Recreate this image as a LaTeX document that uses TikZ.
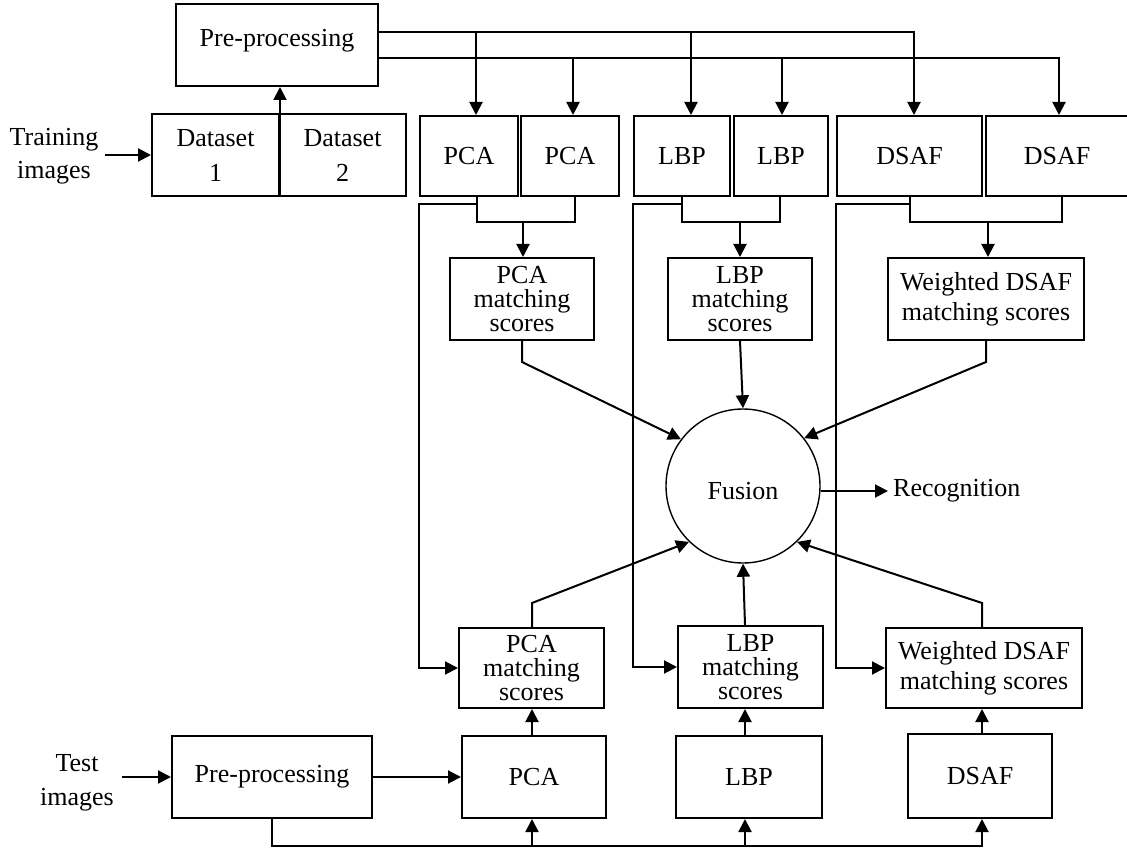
\documentclass[tikz,border=0pt]{standalone}
\usepackage{fontspec}
\setmainfont{Liberation Serif}
\usetikzlibrary{arrows.meta,calc}
\begin{document}
\begin{tikzpicture}[x=1pt,y=-1pt,
  every node/.style={font=\fontsize{26}{24}\selectfont},
  box/.style={draw,line width=2pt,inner sep=0pt,align=center},
  ln/.style={line width=2pt},
  arr/.style={ln,-{Triangle[length=13pt,width=13pt]}},
  txt/.style={inner sep=0pt,align=center}]
\useasboundingbox (0,0) rectangle (1127,850);

% ---------- training branch ----------
\node[box,minimum width=202pt,minimum height=82pt,text height=17pt,text depth=14pt] (pre1) at (277,45) {Pre-processing};
\node[box,minimum width=127pt,minimum height=82pt] (ds1) at (215.5,155) {Dataset\\[11pt]1};
\node[box,minimum width=127pt,minimum height=82pt] (ds2) at (342.5,155) {Dataset\\[11pt]2};
\node[txt,inner xsep=6pt] (train) at (54,156.5) {Training\\[9pt]images};

\node[box,minimum width=98pt,minimum height=80pt] (pca1) at (469,156) {PCA};
\node[box,minimum width=98pt,minimum height=80pt] (pca2) at (570,156) {PCA};
\node[box,minimum width=96pt,minimum height=80pt] (lbp1) at (682,156) {LBP};
\node[box,minimum width=94pt,minimum height=80pt] (lbp2) at (781,156) {LBP};
\node[box,minimum width=145pt,minimum height=80pt] (dsaf1) at (909.5,156) {DSAF};
\node[box,minimum width=142pt,minimum height=80pt] (dsaf2) at (1057,156) {DSAF};

\node[box,minimum width=144pt,minimum height=82pt] (pcams) at (522,299) {PCA\\matching\\scores};
\node[box,minimum width=144pt,minimum height=82pt] (lbpms) at (740,299) {LBP\\matching\\scores};
\node[box,minimum width=196pt,minimum height=82pt] (dsafms) at (986,299) {Weighted DSAF\\[6pt]matching scores};

% ---------- fusion ----------
\node[draw,circle,line width=1.4pt,minimum size=154pt,inner sep=0pt,text height=26pt,text depth=0pt] (fusion) at (743,486) {Fusion};
\node[txt,anchor=west,inner xsep=5pt] (recog) at (888,491) {Recognition};

% ---------- test branch ----------
\node[box,minimum width=145pt,minimum height=80pt] (pcamb) at (531.5,668) {PCA\\matching\\scores};
\node[box,minimum width=145pt,minimum height=82pt] (lbpmb) at (750.5,667) {LBP\\matching\\scores};
\node[box,minimum width=196pt,minimum height=80pt] (dsafmb) at (984,668) {Weighted DSAF\\[6pt]matching scores};

\node[box,minimum width=200pt,minimum height=82pt] (pre2) at (272,777) {Pre-processing};
\node[box,minimum width=144pt,minimum height=82pt] (pcab) at (534,777) {PCA};
\node[box,minimum width=146pt,minimum height=82pt] (lbpb) at (749,777) {LBP};
\node[box,minimum width=144pt,minimum height=84pt] (dsafb) at (980,776) {DSAF};
\node[txt,inner xsep=8pt] (test) at (77,783) {Test\\[10pt]images};

% ---------- helper coordinates ----------
\coordinate (r1) at ([yshift=13pt]pre1.east);
\coordinate (r2) at ([yshift=-13pt]pre1.east);
\coordinate (a1) at (476,0);   \coordinate (a2) at (573,0);
\coordinate (a3) at (691,0);   \coordinate (a4) at (782,0);
\coordinate (a5) at (914,0);   \coordinate (a6) at (1059,0);
\coordinate (b1) at (477,0);   \coordinate (b2) at (575,0);   \coordinate (m1) at (523,0);
\coordinate (b3) at (682,0);   \coordinate (b4) at (780,0);   \coordinate (m2) at (740,0);
\coordinate (b5) at (910,0);   \coordinate (b6) at (1062,0);  \coordinate (m3) at (988,0);
\coordinate (jy) at (0,222);   \coordinate (fy) at (0,204);
\coordinate (cP) at (532,0);   \coordinate (cL) at (745,0);   \coordinate (cD) at (982,0);
\coordinate (ty) at (0,362);   \coordinate (by) at (0,603);   \coordinate (busy) at (0,846);

% ---------- training connectors ----------
\draw[arr] (train.east |- ds1.west) -- (ds1.west);
\draw[arr] (ds1.south east) -- (ds1.south east |- pre1.south);

\draw[arr] (r1) -| (dsaf1.north -| a5);
\draw[arr] (r1 -| a1) -- (pca1.north -| a1);
\draw[arr] (r1 -| a3) -- (lbp1.north -| a3);
\draw[arr] (r2) -| (dsaf2.north -| a6);
\draw[arr] (r2 -| a2) -- (pca2.north -| a2);
\draw[arr] (r2 -| a4) -- (lbp2.north -| a4);

\draw[ln] (pca1.south -| b1) |- (jy -| b2) -- (pca2.south -| b2);
\draw[arr] (jy -| m1) -- (pcams.north -| m1);
\draw[ln] (lbp1.south -| b3) |- (jy -| b4) -- (lbp2.south -| b4);
\draw[arr] (jy -| m2) -- (lbpms.north -| m2);
\draw[ln] (dsaf1.south -| b5) |- (jy -| b6) -- (dsaf2.south -| b6);
\draw[arr] (jy -| m3) -- (dsafms.north -| m3);

% feedback from the training features to the test matching
\draw[arr] (fy -| b1) -- (fy -| pca1.west) |- (pcamb.west);
\draw[arr] (fy -| b3) -- (fy -| lbp1.west) |- (lbpmb.west);
\draw[arr] (fy -| b5) -- (fy -| dsaf1.west) |- (dsafmb.west);

% ---------- into fusion ----------
\draw[arr] (pcams.south) -- (ty -| pcams.south) -- (fusion.143);
\draw[arr] (lbpms.south) -- (fusion.north);
\draw[arr] (dsafms.south) -- (ty -| dsafms.south) -- (fusion.38);
\draw[arr] (pcamb.north -| cP) -- (by -| cP) -- (fusion.226);
\draw[arr] (lbpmb.north -| cL) -- (fusion.south);
\draw[arr] (dsafmb.north -| cD) -- (by -| cD) -- (fusion.314);
\draw[arr] (fusion.east |- recog.west) -- (recog.west);

% ---------- test connectors ----------
\draw[arr] (test.east |- pre2.west) -- (pre2.west);
\draw[arr] (pre2.east) -- (pcab.west);
\draw[arr] (pcab.north -| cP) -- (pcamb.south -| cP);
\draw[arr] (lbpb.north -| cL) -- (lbpmb.south -| cL);
\draw[arr] (dsafb.north -| cD) -- (dsafmb.south -| cD);
\draw[arr] (pre2.south) |- (busy -| cD) -- (dsafb.south -| cD);
\draw[arr] (busy -| cP) -- (pcab.south -| cP);
\draw[arr] (busy -| cL) -- (lbpb.south -| cL);
\end{tikzpicture}
\end{document}
